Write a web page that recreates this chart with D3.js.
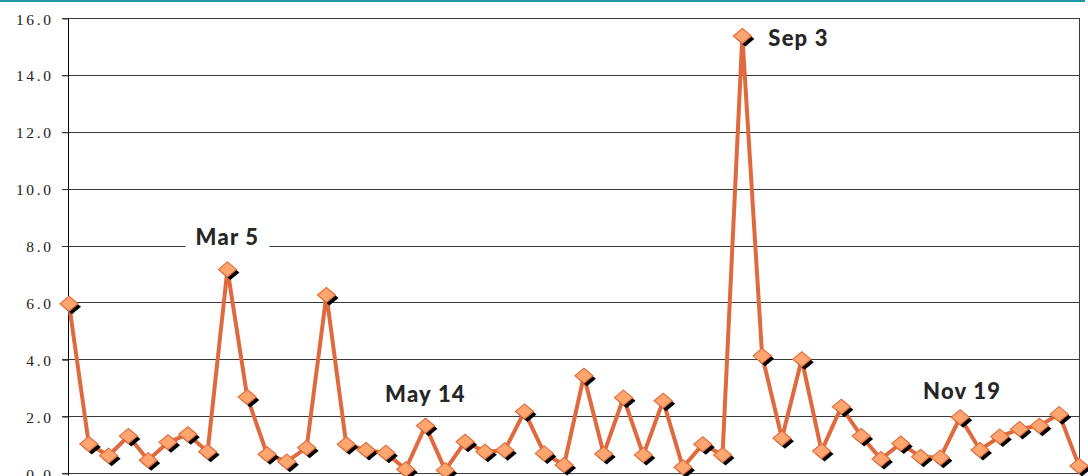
<!DOCTYPE html>
<html>
<head>
<meta charset="utf-8">
<script src="https://cdn.jsdelivr.net/npm/d3@7"></script>
<style>
  body { margin: 0; background: #fff; }
  svg { display: block; }
</style>
</head>
<body>
<div id="chart"></div>
<script>
// weekly categories
let weeks = ["Jan 8","Jan 15","Jan 22","Jan 29","Feb 5","Feb 12","Feb 19","Feb 26",
  "Mar 5","Mar 12","Mar 19","Mar 26","Apr 2","Apr 9","Apr 16","Apr 23","Apr 30",
  "May 7","May 14","May 21","May 28","Jun 4","Jun 11","Jun 18","Jun 25",
  "Jul 2","Jul 9","Jul 16","Jul 23","Jul 30","Aug 6","Aug 13","Aug 20","Aug 27",
  "Sep 3","Sep 10","Sep 17","Sep 24","Oct 1","Oct 8","Oct 15","Oct 22","Oct 29",
  "Nov 5","Nov 12","Nov 19","Nov 26","Dec 3","Dec 10","Dec 17","Dec 24","Dec 31"]

let values = [5.95,1.02,0.61,1.3,0.45,1.08,1.36,0.75,
  7.16,2.67,0.66,0.4,0.89,6.26,1.01,0.81,0.71,
  0.13,1.66,0.1,1.1,0.75,0.8,2.16,0.69,
  0.28,3.42,0.67,2.65,0.63,2.54,0.2,1.01,0.63,
  15.37,4.12,1.22,4.0,0.77,2.33,1.3,0.49,1.04,
  0.57,0.54,1.96,0.81,1.28,1.55,1.66,2.07,0.25]

let yTicks = [0,2,4,6,8,10,12,14,16]

let callouts = ["Mar 5","May 14","Sep 3","Nov 19"]

var W = 1088, H = 476
var svg = d3.select("#chart").append("svg")
  .attr("width", W).attr("height", H)

// teal rule at top
svg.append("rect")
  .attr("x", 0).attr("y", 0).attr("width", 1085).attr("height", 2)
  .attr("fill", "#1e9aa6")

var x = d3.scalePoint().domain(weeks).range([69, 1079])
var y = d3.scaleLinear().domain([0, 16]).range([473, 18])

// gridlines
svg.append("g")
  .selectAll("line")
  .data(yTicks)
  .enter()
  .append("line")
    .attr("x1", 62).attr("x2", 1079.5)
    .attr("y1", d => Math.round(y(d)) + 0.5)
    .attr("y2", d => Math.round(y(d)) + 0.5)
    .attr("stroke", "#3a3a3a")
    .attr("stroke-width", 1)

// right border
svg.append("line")
  .attr("x1", 1079.5).attr("x2", 1079.5)
  .attr("y1", y(16)).attr("y2", y(0))
  .attr("stroke", "#3a3a3a")

// y axis
var yAxis = svg.append("g")
  .attr("transform", "translate(68.5,0.5)")
  .call(d3.axisLeft(y).tickValues(yTicks).tickSize(6).tickPadding(9)
    .tickFormat(d3.format(".1f")))
yAxis.select(".domain").attr("stroke", "#000").attr("d", "M0," + (y(16)-0.5) + "V" + (y(0)+2))
yAxis.selectAll(".tick line").attr("stroke", "#333")
yAxis.selectAll("text")
  .attr("fill", "#222")
  .style("font-family", "'Liberation Serif', serif")
  .style("font-size", "15.5px")
  .style("letter-spacing", "2.6px")
  .attr("dy", "0.36em")

// line
var line = d3.line()
  .x((d, i) => x(weeks[i]))
  .y(d => y(d))

svg.append("path")
  .datum(values)
  .attr("d", line)
  .attr("fill", "none")
  .attr("stroke", "#e0693d")
  .attr("stroke-width", 4)
  .attr("stroke-linejoin", "miter")

// diamond markers with shadow
var diamond = "M0,-7.5 L9,0 L0,7.5 L-9,0 Z"
var marks = svg.append("g")
  .selectAll("g")
  .data(values)
  .enter()
  .append("g")
    .attr("transform", (d, i) => "translate(" + x(weeks[i]) + "," + y(d) + ")")
marks.append("path")
  .attr("d", diamond)
  .attr("transform", "translate(3,3)")
  .attr("fill", "#000")
marks.append("path")
  .attr("d", diamond)
  .attr("fill", "#ffa56f")
  .attr("stroke", "#e2703f")
  .attr("stroke-width", 1.2)

// callout labels
var offs = {
  "Mar 5":  {dx: 0,  dy: -24, anchor: "middle"},
  "May 14": {dx: 0,  dy: -24, anchor: "middle"},
  "Sep 3":  {dx: 26, dy: 10,  anchor: "start"},
  "Nov 19": {dx: 2,  dy: -18, anchor: "middle"}
}
var labels = svg.append("g")
  .selectAll("g")
  .data(callouts)
  .enter()
  .append("g")
labels.each(function(c) {
  var i = weeks.indexOf(c), o = offs[c]
  var g = d3.select(this)
  var t = g.append("text")
    .attr("x", x(c) + o.dx)
    .attr("y", y(values[i]) + o.dy)
    .attr("text-anchor", o.anchor)
    .attr("fill", "#262626")
    .style("font-family", "Lato, sans-serif")
    .style("font-weight", "900")
    .style("font-size", "22px")
    .style("letter-spacing", "1.2px")
    .text(c)
  var b = t.node().getBBox()
  g.insert("rect", "text")
    .attr("x", b.x - 10).attr("y", b.y)
    .attr("width", b.width + 20).attr("height", b.height)
    .attr("fill", "#fff")
})
</script>
</body>
</html>
